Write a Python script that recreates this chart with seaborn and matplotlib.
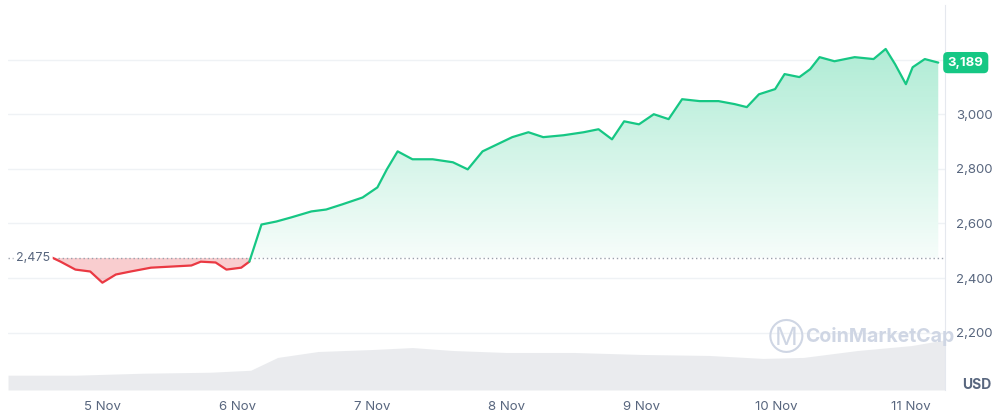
import matplotlib
matplotlib.use("Agg")
import matplotlib.pyplot as plt
import seaborn as sns
import numpy as np
from matplotlib.patches import Polygon
from matplotlib.colors import LinearSegmentedColormap

sns.set_style("white")
plt.rcParams['font.family'] = ['Inter', 'DejaVu Sans']

# price in USD, x = day of November
days = [4.61, 4.69, 4.80, 4.91, 5.00, 5.10, 5.21, 5.36, 5.51, 5.66, 5.73, 5.84, 5.92, 6.03,
        6.09, 6.12, 6.18, 6.29, 6.40, 6.55, 6.66, 6.78, 6.93, 7.04, 7.11, 7.19, 7.30, 7.45,
        7.60, 7.71, 7.82, 7.93, 8.04, 8.16, 8.27, 8.42, 8.57, 8.68, 8.78, 8.87, 8.98, 9.09,
        9.20, 9.30, 9.43, 9.57, 9.69, 9.78, 9.87, 9.99, 10.06, 10.17, 10.25, 10.32, 10.43,
        10.58, 10.72, 10.81, 10.88, 10.96, 11.01, 11.10, 11.20]
price = [2479, 2460, 2431, 2424, 2383, 2413, 2424, 2438, 2442, 2446, 2460, 2457, 2431, 2438,
         2460, 2505, 2596, 2607, 2622, 2644, 2651, 2670, 2695, 2732, 2798, 2864, 2835, 2835,
         2824, 2798, 2864, 2890, 2916, 2934, 2916, 2923, 2934, 2945, 2908, 2974, 2963, 3000,
         2982, 3055, 3048, 3048, 3037, 3026, 3073, 3092, 3147, 3136, 3165, 3209, 3194, 3209,
         3202, 3239, 3183, 3110, 3172, 3202, 3189]
open_price = 2475
last_price = 3189
cross = 14  # index where price goes back above open for good

vol_days = [4.3, 4.8, 5.3, 5.8, 6.1, 6.3, 6.6, 7.0, 7.3, 7.6, 8.0, 8.5, 9.0, 9.5, 9.9, 10.2, 10.6, 11.0, 11.3]
volume = [15, 15, 17, 18, 20, 33, 39, 41, 43, 40, 38, 38, 36, 35, 32, 33, 40, 45, 52]

ticks_y = [2200, 2400, 2600, 2800, 3000]
tick_days = [5, 6, 7, 8, 9, 10, 11]
tick_labels = ["5 Nov", "6 Nov", "7 Nov", "8 Nov", "9 Nov", "10 Nov", "11 Nov"]

green = "#16c784"
red = "#ea3943"

fig = plt.figure(figsize=(10.06, 4.18), dpi=100)
ax = fig.add_axes([8/1006, 28/418, 937/1006, 385/418])
xmin, xmax = 4.3, 11.25
ymin, ymax = 1990, 3400
ax.set_xlim(xmin, xmax)
ax.set_ylim(ymin, ymax)

# volume on a twin axis
axv = ax.twinx()
axv.set_ylim(0, 390)
axv.fill_between(vol_days, volume, color="#e3e5e9", alpha=0.75, lw=0)
axv.set_yticks([])
for s in axv.spines.values():
    s.set_visible(False)
ax.set_zorder(axv.get_zorder() + 1)
ax.patch.set_visible(False)

for t in ticks_y + [3200]:
    ax.axhline(t, color="#eff2f5", lw=1, zorder=0)

d = np.array(days)
p = np.array(price)

# green gradient fill above open
grad = np.linspace(0.04, 0.4, 256).reshape(-1, 1)
cmap = LinearSegmentedColormap.from_list("g", ["#ffffff", green])
img = ax.imshow(grad, extent=[xmin, xmax, open_price, ymax], origin="lower", aspect="auto",
                cmap=cmap, vmin=0, vmax=1, zorder=1)
dg, pg = d[cross:], p[cross:]
poly = Polygon(np.column_stack([np.r_[dg, dg[::-1]], np.r_[pg, np.full_like(pg, open_price)]]),
               closed=True, facecolor="none", edgecolor="none")
ax.add_patch(poly)
img.set_clip_path(poly)
dr, pr = d[:cross + 1], p[:cross + 1]
ax.fill_between(dr, np.minimum(pr, open_price), open_price, color=red, alpha=0.25, lw=0, zorder=1)

sns.lineplot(x=dr, y=pr, ax=ax, color=red, lw=1.6, zorder=3)
sns.lineplot(x=dg, y=pg, ax=ax, color=green, lw=1.6, zorder=3)

ax.axhline(open_price, color="#9aa0ab", lw=1, ls=(0, (1, 2)), zorder=2)
ax.text(4.36, open_price, "2,475", va="center", ha="left", fontsize=9, color="#58667e",
        bbox=dict(boxstyle="round,pad=0.2", fc="white", ec="none"))

ax.yaxis.tick_right()
ax.set_yticks(ticks_y)
ax.set_yticklabels([f"{t:,}" for t in ticks_y], fontsize=9.5, color="#58667e")
ax.set_xticks(tick_days)
ax.set_xticklabels(tick_labels, fontsize=9.5, color="#58667e")
ax.tick_params(length=0, pad=8)
for s in ["left", "top", "bottom"]:
    ax.spines[s].set_visible(False)
ax.spines["right"].set_color("#e5e8ee")

ax.text(1.003, (last_price - ymin) / (ymax - ymin), f"{last_price:,}", transform=ax.transAxes,
        va="center", ha="left", fontsize=9.5, color="white", weight="bold",
        bbox=dict(boxstyle="round,pad=0.35", fc=green, ec="none"))
fig.text(0.985, 0.08, "USD", ha="right", va="center", fontsize=10, color="#58667e", weight="bold")
fig.text(0.800, 0.195, "CoinMarketCap", ha="left", va="center", fontsize=14, color="#cfd6e4", weight="bold")
fig.text(0.781, 0.197, "\u24c2", ha="center", va="center", fontsize=18, color="#cfd6e4")

fig.savefig("out.png", dpi=100)
